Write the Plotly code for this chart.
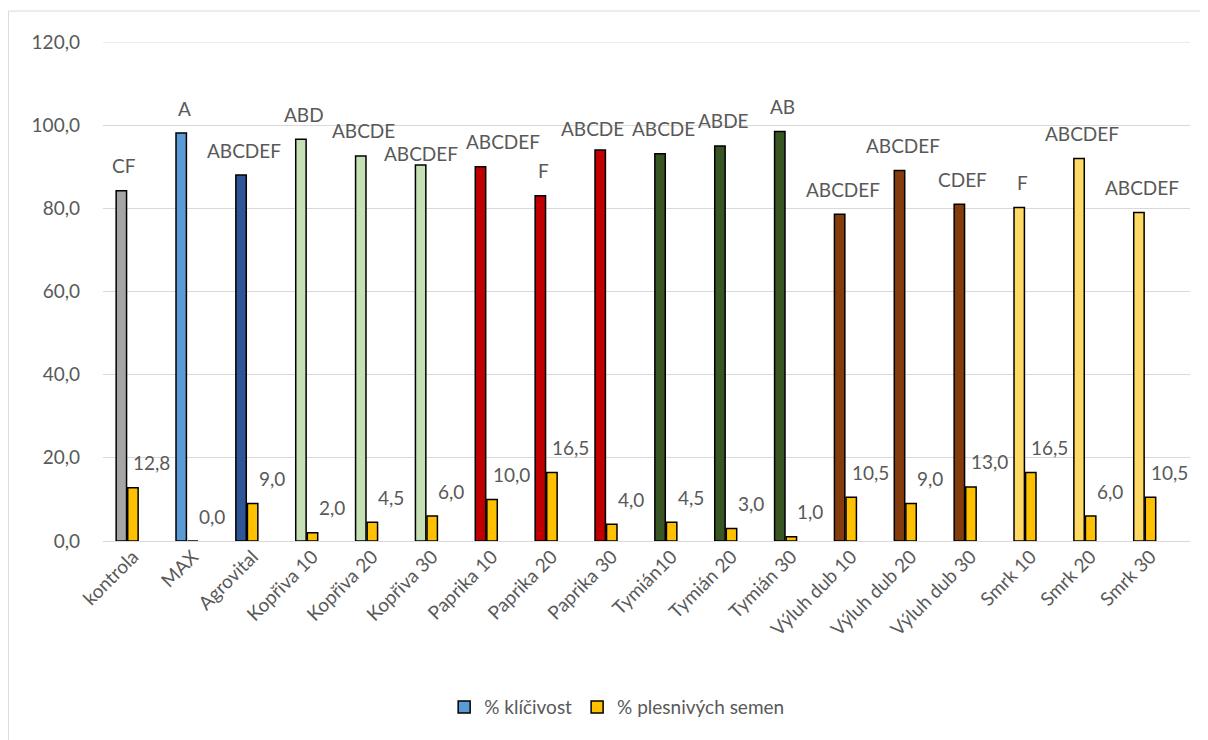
import plotly.graph_objects as go

categories = ["kontrola", "MAX", "Agrovital", "Kopřiva 10", "Kopřiva 20", "Kopřiva 30",
              "Paprika 10", "Paprika 20", "Paprika 30", "Tymián10", "Tymián 20", "Tymián 30",
              "Výluh dub 10", "Výluh dub 20", "Výluh dub 30", "Smrk 10", "Smrk 20", "Smrk 30"]
klicivost = [84.2, 98.1, 88.0, 96.6, 92.6, 90.4, 90.0, 83.0, 94.0, 93.1, 95.0, 98.5,
             78.6, 89.1, 81.0, 80.2, 92.0, 79.0]
plesnive = [12.8, 0.0, 9.0, 2.0, 4.5, 6.0, 10.0, 16.5, 4.0, 4.5, 3.0, 1.0,
            10.5, 9.0, 13.0, 16.5, 6.0, 10.5]
letters = ["CF", "A", "ABCDEF", "ABD", "ABCDE", "ABCDEF", "ABCDEF", "F", "ABCDE", "ABCDE",
           "ABDE", "AB", "ABCDEF", "ABCDEF", "CDEF", "F", "ABCDEF", "ABCDEF"]
bar_colors = ["#A5A5A5", "#5B9BD5", "#2F5597", "#C5E0B4", "#C5E0B4", "#C5E0B4",
              "#C00000", "#C00000", "#C00000", "#375623", "#375623", "#375623",
              "#843C0C", "#843C0C", "#843C0C", "#FFD966", "#FFD966", "#FFD966"]
y_ticks = [0, 20, 40, 60, 80, 100, 120]
series_names = ["% klíčivost", "% plesnivých semen"]

FONT = "Lato"
TXT = "#595959"
FS = 19

# manual nudges of a few letter labels (as in the original chart), in pixels
label_nudge = {"Kopřiva 30": (-3, -13), "Paprika 10": (19, 0), "Paprika 30": (-11, -3)}

fig = go.Figure()
fig.add_trace(go.Bar(x=categories, y=klicivost, name=series_names[0], showlegend=False,
                     marker=dict(color=bar_colors, line=dict(color="black", width=1.5))))
fig.add_trace(go.Bar(x=categories, y=plesnive, name=series_names[1], legendrank=2,
                     marker=dict(color="#FFC000", line=dict(color="black", width=1.5))))
fig.add_trace(go.Bar(x=[None], y=[None], name=series_names[0], legendrank=1,
                     marker=dict(color="#5B9BD5", line=dict(color="black", width=1.5))))

for c, v, t in zip(categories, klicivost, letters):
    dx, dy = label_nudge.get(c, (0, 0))
    fig.add_annotation(x=c, y=v, text=t, showarrow=False, xshift=-8.5 + dx, yshift=25 + dy,
                       yanchor="middle", font=dict(family=FONT, size=FS, color=TXT))
for c, v in zip(categories, plesnive):
    fig.add_annotation(x=c, y=v, text=f"{v:.1f}".replace(".", ","), showarrow=False,
                       xshift=19, yshift=25, yanchor="middle",
                       font=dict(family=FONT, size=FS, color=TXT))

fig.add_shape(type="rect", xref="paper", yref="paper", x0=-0.087, x1=1.2, y0=-0.6, y1=1.062,
              line=dict(color="#D9D9D9", width=1), fillcolor="rgba(0,0,0,0)", layer="below")
fig.add_shape(type="line", xref="paper", yref="y", x0=0, x1=1, y0=120, y1=120,
              line=dict(color="#D9D9D9", width=1), layer="below")

fig.update_layout(
    width=1208, height=740,
    margin=dict(l=95, r=26, t=34, b=207),
    paper_bgcolor="white", plot_bgcolor="white",
    barmode="group", bargap=0.42, bargroupgap=0.1,
    separators=", ",
    font=dict(family=FONT, size=FS, color=TXT),
    showlegend=True,
    legend=dict(orientation="h", x=0.473, xanchor="center", y=-0.333, yanchor="middle",
                font=dict(family=FONT, size=FS, color=TXT), traceorder="normal"),
    xaxis=dict(tickangle=-45, showgrid=False, showline=False, ticks="",
               tickfont=dict(family=FONT, size=FS, color=TXT)),
    yaxis=dict(range=[0, 120], tickvals=y_ticks, tickformat=".1f", showgrid=True,
               gridcolor="#D9D9D9", gridwidth=1, zeroline=True, zerolinecolor="#D9D9D9",
               zerolinewidth=1, showline=False, ticks="", ticklabelstandoff=22,
               tickfont=dict(family=FONT, size=FS, color=TXT)),
)

fig.write_html("out.html")
